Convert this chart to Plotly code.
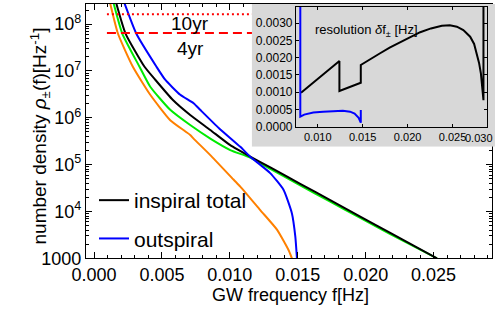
import math
import plotly.graph_objects as go

# ---------------- data ----------------
# main panel: number density vs GW frequency
f_total = [0.00158, 0.00232, 0.00372, 0.00451, 0.00581, 0.00708, 0.00856, 0.01003,
           0.01150, 0.01298, 0.01518, 0.01739, 0.01960, 0.02181, 0.02525]
rho_total = [3.2e8, 6.3e7, 1.23e7, 6.5e6, 2.4e6, 1.15e6, 5.5e5, 2.6e5,
             1.48e5, 8.7e4, 3.88e4, 1.75e4, 7.8e3, 3.5e3, 1.0e3]

f_green = [0.00139, 0.00208, 0.00335, 0.00414, 0.00561, 0.00708, 0.00856, 0.01003,
           0.01150, 0.01298, 0.01518, 0.01739, 0.01960, 0.02181, 0.02525]
rho_green = [3.2e8, 6.3e7, 1.23e7, 4.6e6, 1.48e6, 7.0e5, 3.6e5, 2.05e5,
             1.41e5, 8.1e4, 3.6e4, 1.62e4, 7.3e3, 3.28e3, 1.0e3]

f_out = [0.00217, 0.00311, 0.00460, 0.00524, 0.00635, 0.00733, 0.00782, 0.00920,
         0.01077, 0.01150, 0.01297, 0.01395, 0.01457, 0.01482, 0.01494]
rho_out = [3.2e8, 6.3e7, 1.23e7, 6.5e6, 3.1e6, 2.05e6, 1.48e6, 6.0e5,
           2.4e5, 1.48e5, 6.6e4, 2.9e4, 9.1e3, 2.9e3, 1.0e3]

f_orange = [0.00114, 0.00176, 0.00286, 0.00414, 0.00561, 0.00708, 0.00733, 0.00856,
            0.01027, 0.01077, 0.01224, 0.01347, 0.01432, 0.01457]
rho_orange = [3.2e8, 6.3e7, 1.23e7, 3.1e6, 8.9e5, 4.3e5, 3.6e5, 1.6e5,
              4.8e4, 3.4e4, 1.07e4, 4.1e3, 1.5e3, 1.0e3]

# observation-time thresholds
f_thr = [0.00095, 0.0285]
rho_10yr = 1.63e8
rho_4yr = 6.45e7

# inset: frequency resolution
f_res_in = [0.00814, 0.01241, 0.01241, 0.01479, 0.01479, 0.0160, 0.01694, 0.0180,
            0.01917, 0.0203, 0.0214, 0.0226, 0.02381, 0.0247, 0.02548, 0.0262,
            0.02696, 0.0274, 0.02771, 0.02795, 0.02815, 0.02832, 0.02844, 0.02844]
df_in = [0.000986, 0.001906, 0.001036, 0.001276, 0.00179, 0.00199, 0.00213, 0.00229,
         0.00245, 0.00260, 0.00274, 0.00285, 0.00293, 0.00294, 0.00290, 0.00280,
         0.00261, 0.00240, 0.00213, 0.00185, 0.00155, 0.00118, 0.00077, 0.0040]

f_res_out = [0.00806, 0.00806, 0.0085, 0.0095, 0.0106, 0.0118, 0.0128, 0.0136,
             0.0141, 0.01455, 0.01479, 0.01479]
df_out = [0.0040, 0.00029, 0.00035, 0.00041, 0.000435, 0.00046, 0.000462, 0.000435,
          0.00038, 0.00026, 0.000116, 0.000484]

x_ticks = [0.000, 0.005, 0.010, 0.015, 0.020, 0.025]
y_ticks = [1e3, 1e4, 1e5, 1e6, 1e7, 1e8]
y_tick_text = ["1000", "10<sup>4</sup>", "10<sup>5</sup>", "10<sup>6</sup>",
               "10<sup>7</sup>", "10<sup>8</sup>"]
ix_ticks = [0.010, 0.015, 0.020, 0.025]
iy_ticks = [0.0, 0.0005, 0.0010, 0.0015, 0.0020, 0.0025, 0.0030]

# ---------------- figure ----------------
W, H = 495, 322
FONT = "Liberation Sans, Arial, sans-serif"
ORANGE = "rgb(255,128,0)"
GREEN = "rgb(0,235,0)"
GRAY = "rgb(216,216,216)"
SM = 0.5

def px(p):
    return p / W

def py(p):
    return 1 - p / H

fig = go.Figure()

fig.add_trace(go.Scatter(x=f_orange, y=rho_orange, mode="lines", showlegend=False,
                         line=dict(color=ORANGE, width=2, shape="spline", smoothing=SM)))
fig.add_trace(go.Scatter(x=f_green, y=rho_green, mode="lines", showlegend=False,
                         line=dict(color=GREEN, width=2, shape="spline", smoothing=SM)))
fig.add_trace(go.Scatter(x=f_total, y=rho_total, mode="lines", name="inspiral total",
                         legendgroup="a",
                         line=dict(color="black", width=2, shape="spline", smoothing=SM)))
fig.add_trace(go.Scatter(x=f_out, y=rho_out, mode="lines", name="outspiral",
                         legendgroup="b",
                         line=dict(color="blue", width=2, shape="spline", smoothing=SM)))
fig.add_trace(go.Scatter(x=f_thr, y=[rho_10yr, rho_10yr], mode="lines", showlegend=False,
                         line=dict(color="red", width=2, dash="2px,3px")))
fig.add_trace(go.Scatter(x=f_thr, y=[rho_4yr, rho_4yr], mode="lines", showlegend=False,
                         line=dict(color="red", width=2, dash="9px,5px")))

# gray inset background
fig.add_trace(go.Scatter(x=[0, 1, 1, 0, 0], y=[0, 0, 1, 1, 0], mode="lines", fill="toself",
                         fillcolor=GRAY, line=dict(width=0, color=GRAY), showlegend=False,
                         hoverinfo="skip", xaxis="x2", yaxis="y2"))

# inset curves
fig.add_trace(go.Scatter(x=f_res_in, y=df_in, mode="lines", showlegend=False,
                         line=dict(color="black", width=2), xaxis="x3", yaxis="y3"))
fig.add_trace(go.Scatter(x=f_res_out, y=df_out, mode="lines", showlegend=False,
                         line=dict(color="blue", width=2), xaxis="x3", yaxis="y3"))

axis_common = dict(showline=True, linecolor="black", linewidth=1.2, ticks="inside",
                   tickcolor="black", showgrid=False, zeroline=False, automargin=False)

fig.update_layout(
    template="none",
    width=W, height=H,
    margin=dict(l=0, r=0, t=0, b=0, pad=0),
    paper_bgcolor="white", plot_bgcolor="rgba(0,0,0,0)",
    font=dict(family=FONT, color="black", size=18),
    xaxis=dict(domain=[px(86), px(492)], range=[-0.00059, 0.0293],
               tickvals=x_ticks, ticktext=[f"{v:.3f}" for v in x_ticks],
               ticklen=6, mirror="ticks", tickfont=dict(size=18),
               minor=dict(dtick=0.001, ticks="inside", ticklen=3, tickcolor="black"),
               anchor="y", **axis_common),
    yaxis=dict(domain=[py(258.3), py(4)], type="log", range=[3, 8.43],
               tickvals=y_ticks, ticktext=y_tick_text, ticklen=6, mirror="ticks",
               tickfont=dict(size=18),
               minor=dict(ticks="inside", ticklen=3, tickcolor="black", dtick="D1"),
               anchor="x", **axis_common),
    xaxis2=dict(domain=[px(251.7), 1.0], range=[0, 1], visible=False, fixedrange=True,
                anchor="y2", automargin=False),
    yaxis2=dict(domain=[py(146.7), py(4)], range=[0, 1], visible=False, fixedrange=True,
                anchor="x2", automargin=False),
    xaxis3=dict(domain=[px(296), px(486.7)], range=[0.00758, 0.0288],
                tickvals=ix_ticks, ticktext=[f"{v:.3f}" for v in ix_ticks],
                ticklen=3, mirror="ticks", tickfont=dict(size=11), anchor="y3",
                **axis_common),
    yaxis3=dict(domain=[py(126.7), py(6.7)], range=[0, 0.00348],
                tickvals=iy_ticks, ticktext=[f"{v:.4f}" for v in iy_ticks],
                ticklen=3, mirror="ticks", tickfont=dict(size=12), anchor="x3",
                **axis_common),
    legend=dict(x=px(94), y=py(180), xanchor="left", yanchor="top",
                bgcolor="rgba(0,0,0,0)", font=dict(size=21), tracegroupgap=8,
                itemwidth=30),
    showlegend=True,
)

# axis titles
fig.add_annotation(x=px(290.8), y=py(307), xref="paper", yref="paper",
                   text="GW frequency f[Hz]", showarrow=False, font=dict(size=18))
fig.add_annotation(x=px(24), y=py(136), xref="paper", yref="paper", textangle=-90,
                   text="number density <i>ρ</i><sub>±</sub>(f)[Hz<sup>-1</sup>]",
                   showarrow=False, font=dict(size=19))

fig.add_annotation(x=0.00708, y=math.log10(1.04e8), xref="x", yref="y", text="10yr",
                   showarrow=False, font=dict(size=19))
fig.add_annotation(x=0.00708, y=math.log10(3.03e7), xref="x", yref="y", text="4yr",
                   showarrow=False, font=dict(size=19))
fig.add_annotation(x=px(312.7), y=py(20), xref="paper", yref="paper", xanchor="left",
                   text="resolution <i>δ</i>f<sub>±</sub> [Hz]", showarrow=False,
                   font=dict(size=13))
fig.add_annotation(x=px(495), y=py(138.3), xref="paper", yref="paper", xanchor="right",
                   text="0.030", showarrow=False, font=dict(size=11))

fig.write_html("out.html", config={"displayModeBar": False},
               post_script="document.body.style.margin='0px';document.body.style.overflow='hidden';")
